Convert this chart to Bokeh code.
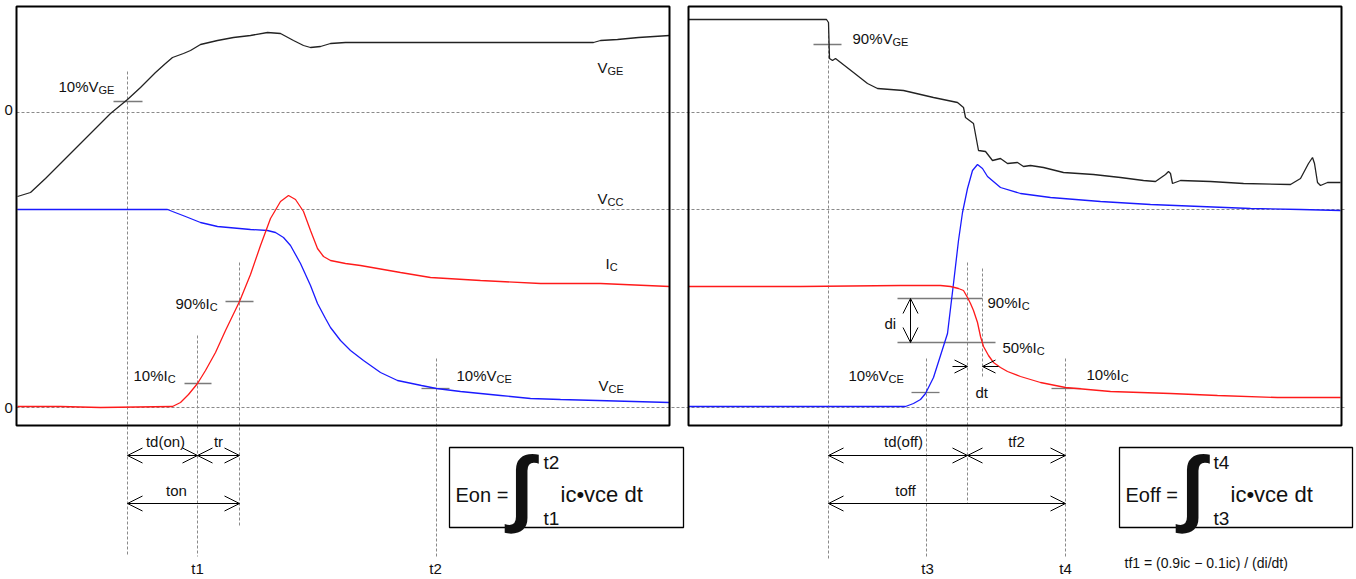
from bokeh.plotting import figure
from bokeh.models import Range1d, Arrow, OpenHead, ColumnDataSource
from bokeh.core.properties import value
from bokeh.embed import file_html
from bokeh.resources import INLINE

# ---------------- waveform data (diagram units: x = time, y = screen level) -------------
# Turn-on (left panel)
on_vge_t = [17, 30, 45, 60, 80, 95, 110, 127, 140, 155, 165, 172, 183, 190, 200, 217, 233, 250, 267,
            280, 293, 303, 310, 320, 330, 345, 380, 420, 480, 540, 593, 600, 617, 638, 669]
on_vge_v = [196, 192, 178, 163, 143, 128, 113, 99, 87, 72, 63, 57, 53, 50, 44, 40, 37, 35, 32,
            33, 40, 45, 47, 46, 43, 42, 42, 42, 42, 42, 42, 40, 39, 37, 35]
on_vce_t = [17, 167, 172, 185, 200, 217, 250, 267, 275, 283, 290, 300, 310, 317, 325, 330, 340,
            350, 363, 380, 397, 421, 436, 460, 480, 500, 530, 560, 597, 669]
on_vce_v = [209, 209, 211, 216, 222, 226, 229, 230, 232, 237, 245, 263, 285, 303, 318, 327, 340,
            350, 360, 372, 380, 385, 388, 391, 393, 395, 398, 399, 400, 402]
on_ic_t = [17, 60, 100, 172, 180, 188, 197, 205, 215, 225, 239, 250, 260, 270, 280, 288, 295,
           303, 310, 317, 323, 330, 345, 360, 400, 430, 480, 540, 600, 669]
on_ic_v = [406, 406, 407, 406, 402, 394, 383, 370, 352, 330, 301, 274, 245, 218, 201, 195, 199,
           211, 230, 248, 256, 260, 263, 265, 272, 277, 280, 283, 283, 286]

# Turn-off (right panel)
off_vge_t = [688, 826, 828, 829, 832, 835, 853, 867, 877, 903, 933, 957, 963, 965, 973, 978, 985,
             992, 1000, 1007, 1017, 1023, 1030, 1043, 1063, 1093, 1120, 1143, 1155, 1165, 1168,
             1170, 1172, 1180, 1210, 1243, 1290, 1300, 1308, 1312, 1314, 1317, 1320, 1327, 1340]
off_vge_v = [19, 19, 22, 58, 60, 58, 72, 83, 88, 90, 97, 102, 107, 117, 123, 150, 151,
             160, 158, 163, 162, 166, 165, 167, 172, 174, 177, 180, 181, 174, 171,
             173, 183, 180, 181, 183, 184, 178, 163, 157, 163, 182, 185, 182, 182]
off_vce_t = [688, 905, 913, 920, 925, 933, 940, 947, 953, 958, 962, 967, 972, 977, 982, 987,
             1000, 1020, 1050, 1100, 1150, 1200, 1250, 1300, 1340]
off_vce_v = [406, 406, 403, 399, 393, 377, 355, 333, 283, 240, 212, 188, 170, 164, 168, 176,
             187, 193, 197, 201, 204, 206, 208, 209, 210]
off_ic_t = [688, 800, 900, 940, 950, 958, 963, 967, 970, 973, 977, 980, 983, 988, 993, 1000,
            1007, 1020, 1040, 1065, 1110, 1170, 1217, 1277, 1340]
off_ic_v = [286, 286, 285, 285, 286, 288, 290, 297, 303, 310, 322, 336, 346, 355, 362, 367,
            371, 376, 382, 387, 391, 393, 395, 397, 397]

# reference levels
ref_levels = [112, 209, 407]

# ---------------- figure ----------------
FONT = "Liberation Sans"
W, H = 1356, 579
p = figure(width=W, height=H, x_range=Range1d(0, W), y_range=Range1d(H, 0),
           output_backend="svg", toolbar_location=None, min_border=0,
           x_axis_location=None, y_axis_location=None)
p.grid.visible = False
p.outline_line_color = None

DASH = "#8a8a8a"
TICK = "#7a7a7a"

# dashed reference levels (span both panels)
p.segment(x0=[16] * 3, x1=[1345] * 3, y0=ref_levels, y1=ref_levels,
          line_color=DASH, line_width=1, line_dash="3 2")

# dashed time markers
vx = [127, 197, 239, 436, 828, 926, 967, 982, 1065]
vy0 = [71, 335, 262, 358, 30, 358, 262, 268, 358]
vy1 = [556, 556, 526, 556, 558, 558, 503, 378, 558]
p.segment(x0=vx, x1=vx, y0=vy0, y1=vy1, line_color=DASH, line_width=1, line_dash="3 2")

# solid short level ticks
tx0 = [113, 225, 184, 421, 813, 897, 897, 911, 1051]
tx1 = [142, 253, 211, 449, 841, 982, 995, 939, 1080]
ty = [101, 301, 383, 388, 44, 298, 342, 392, 388]
p.segment(x0=tx0, x1=tx1, y0=ty, y1=ty, line_color=TICK, line_width=1.3)

# waveforms
BLK, BLU, RED = "#222222", "#1a1aff", "#ff1a1a"
p.line(on_vge_t, on_vge_v, line_color=BLK, line_width=1.3)
p.line(on_vce_t, on_vce_v, line_color=BLU, line_width=1.3)
p.line(on_ic_t, on_ic_v, line_color=RED, line_width=1.3)
p.line(off_vge_t, off_vge_v, line_color=BLK, line_width=1.3)
p.line(off_vce_t, off_vce_v, line_color=BLU, line_width=1.3)
p.line(off_ic_t, off_ic_v, line_color=RED, line_width=1.3)

# panel frames
p.quad(left=[16, 688], right=[669, 1341], top=[6, 6], bottom=[425, 425],
       fill_color=None, line_color="black", line_width=2)
# formula boxes
p.quad(left=[449, 1119], right=[683, 1352], top=[447, 447], bottom=[527, 527],
       fill_color=None, line_color="black", line_width=1.3)

# dimension arrows (both heads)
arr = ColumnDataSource(dict(x0=[127, 197, 127, 828, 967, 828, 910],
                            x1=[197, 239, 239, 967, 1065, 1065, 910],
                            y0=[455, 455, 503, 455, 455, 503, 298],
                            y1=[455, 455, 503, 455, 455, 503, 342]))
p.add_layout(Arrow(x_start="x0", y_start="y0", x_end="x1", y_end="y1", source=arr,
                   start=OpenHead(size=15, line_width=1, line_color="black"),
                   end=OpenHead(size=15, line_width=1, line_color="black"),
                   line_width=1, line_color="black"))
arr2 = ColumnDataSource(dict(x0=[952, 998], x1=[967, 982], y0=[366, 366], y1=[366, 366]))
p.add_layout(Arrow(x_start="x0", y_start="y0", x_end="x1", y_end="y1", source=arr2,
                   end=OpenHead(size=13, line_width=1, line_color="black"),
                   line_width=1, line_color="black"))

# ---------------- labels with subscripts ----------------
AW = {'0': .556, '1': .556, '5': .556, '9': .556, '%': .889, 'V': .667, 'I': .278,
      'C': .722, 'G': .778, 'E': .667}
MS, SS = 15, 11
labels = [("10%V", "GE", 58, 86), ("V", "GE", 597, 67), ("V", "CC", 597, 198),
          ("I", "C", 605, 263), ("V", "CE", 598, 385), ("90%I", "C", 175, 303),
          ("10%I", "C", 133, 375), ("10%V", "CE", 456, 375), ("90%V", "GE", 852, 38),
          ("90%I", "C", 987, 302), ("50%I", "C", 1002, 347), ("10%V", "CE", 848, 375),
          ("10%I", "C", 1086, 374)]
mx, my, mt, sx, sy, st = [], [], [], [], [], []
for main, sub, x, y in labels:
    mx.append(x); my.append(y); mt.append(main)
    sx.append(x + sum(AW.get(c, .556) for c in main) * MS); sy.append(y + 3); st.append(sub)
for t in [("0", 4, 109), ("0", 4, 407), ("di", 884, 323), ("dt", 975, 392)]:
    mt.append(t[0]); mx.append(t[1]); my.append(t[2])
p.text(x=mx, y=my, text=mt, text_font=value(FONT), text_font_size=f"{MS}px",
       text_baseline="alphabetic", text_align="left", text_color="#111111")
p.text(x=sx, y=sy, text=st, text_font=value(FONT), text_font_size=f"{SS}px",
       text_baseline="alphabetic", text_align="left", text_color="#111111")

# timing labels
tl_text = ["td(on)", "tr", "ton", "t1", "t2", "td(off)", "tf2", "toff", "t3", "t4"]
tl_x = [165, 218, 176, 197, 435, 903, 1016, 905, 927, 1065]
tl_y = [441, 441, 490, 568, 568, 441, 441, 490, 568, 568]
p.text(x=tl_x, y=tl_y, text=tl_text, text_font=value(FONT), text_font_size="15px",
       text_baseline="middle", text_align="center", text_color="#111111")

# energy formulas
p.text(x=[455, 1125], y=[494, 494], text=["Eon =", "Eoff ="], text_font=value(FONT),
       text_font_size="20px", text_baseline="middle", text_align="left", text_color="#111111")
p.text(x=[560, 1230], y=[494, 494], text=["ic•vce dt", "ic•vce dt"], text_font=value(FONT),
       text_font_size="22px", text_baseline="middle", text_align="left", text_color="#111111")
p.text(x=[543, 543, 1213, 1213], y=[462, 518, 462, 518], text=["t2", "t1", "t4", "t3"],
       text_font=value(FONT), text_font_size="19px", text_baseline="middle",
       text_align="left", text_color="#111111")
p.text(x=[521, 1192], y=[485, 485], text=["∫", "∫"], text_font=value(FONT),
       text_font_size="84px", text_font_style="bold", text_baseline="middle",
       text_align="center", text_color="#111111")
p.text(x=[1124], y=[562], text=["tf1 = (0.9ic − 0.1ic) / (di/dt)"], text_font=value(FONT),
       text_font_size="14px", text_baseline="middle", text_align="left", text_color="#111111")

open("out.html", "w").write(file_html(p, INLINE))
